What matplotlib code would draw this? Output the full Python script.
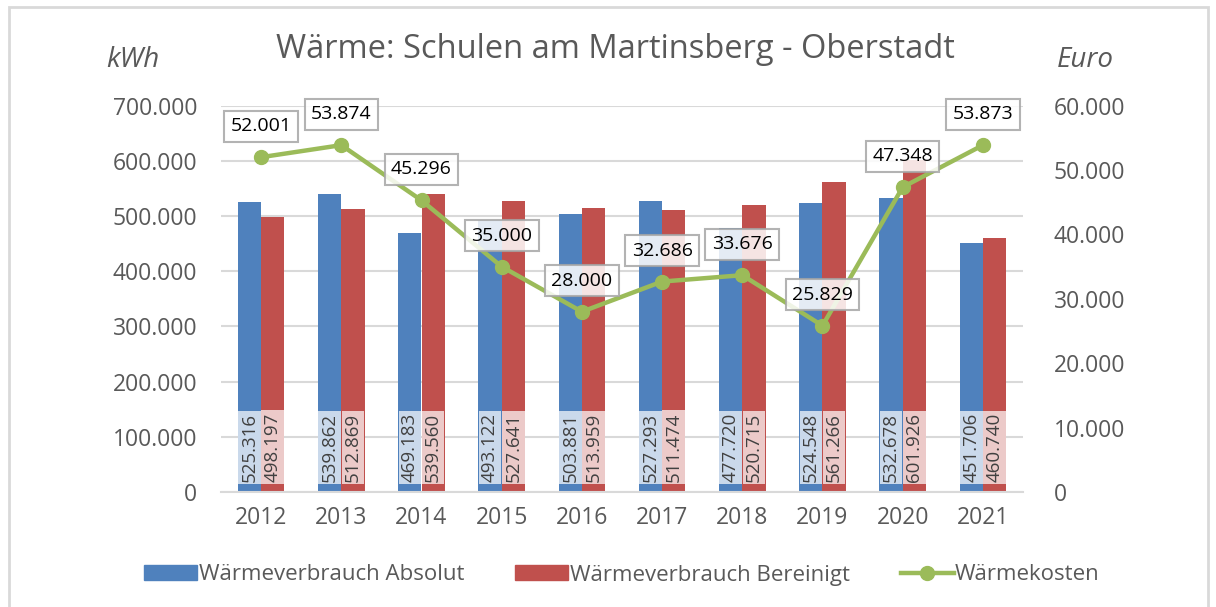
import matplotlib
matplotlib.use('Agg')
import matplotlib.pyplot as plt
import numpy as np
from matplotlib.patches import Rectangle
from matplotlib.lines import Line2D
from matplotlib.patches import Patch

plt.rcParams['font.family'] = ['Open Sans', 'DejaVu Sans']

# Data
years = ['2012', '2013', '2014', '2015', '2016', '2017', '2018', '2019', '2020', '2021']
verbrauch_absolut = [525316, 539862, 469183, 493122, 503881, 527293, 477720, 524548, 532678, 451706]
verbrauch_bereinigt = [498197, 512869, 539560, 527641, 513959, 511474, 520715, 561266, 601926, 460740]
kosten = [52001, 53874, 45296, 35000, 28000, 32686, 33676, 25829, 47348, 53873]

blue = '#4f81bd'
red = '#c0504d'
green = '#9bbb59'
grey_text = '#595959'
grid_col = '#d9d9d9'


def de_fmt(v):
    return f'{v:,.0f}'.replace(',', '.')


fig = plt.figure(figsize=(12.16, 6.07), dpi=100)
ax = fig.add_axes([221 / 1216, 1 - 492 / 607, 802 / 1216, 386.3 / 607])
ax2 = ax.twinx()

# outer frame of the chart
fig.patches.append(Rectangle((9 / 1216, -0.01), 1199 / 1216, 1 - 7 / 607 + 0.01,
                             transform=fig.transFigure, fill=False,
                             edgecolor=grid_col, linewidth=2))

x = np.arange(len(years))
w = 0.29
b1 = ax.bar(x - w / 2, verbrauch_absolut, width=w, color=blue, zorder=2)
b2 = ax.bar(x + w / 2, verbrauch_bereinigt, width=w, color=red, zorder=2)

# bar labels at base, rotated
for bars, vals in ((b1, verbrauch_absolut), (b2, verbrauch_bereinigt)):
    for rect, v in zip(bars, vals):
        ax.annotate(de_fmt(v), (rect.get_x() + rect.get_width() / 2, 0),
                    xytext=(0, 10), textcoords='offset pixels',
                    rotation=90, ha='center', va='bottom', fontsize=13.5,
                    color='#404040', zorder=3,
                    bbox=dict(boxstyle='square,pad=0.12', facecolor='white',
                              edgecolor='none', alpha=0.7))

ax.set_xlim(-0.5, len(years) - 0.5)
ax.set_ylim(0, 700000)
ax.set_yticks(np.arange(0, 700001, 100000))
ax.set_yticklabels([de_fmt(v) for v in np.arange(0, 700001, 100000)])
ax.set_xticks(x)
ax.set_xticklabels(years)
ax.yaxis.grid(True, color=grid_col, linewidth=1.5, zorder=0)
ax.set_axisbelow(True)
for s in ax.spines.values():
    s.set_visible(False)
ax.spines['bottom'].set_visible(True)
ax.spines['bottom'].set_color(grid_col)
ax.spines['bottom'].set_linewidth(1.5)
ax.tick_params(axis='both', length=0, labelsize=16.5, colors=grey_text)
ax.tick_params(axis='y', pad=17)
ax.tick_params(axis='x', pad=10)

# line on secondary axis
ax2.plot(x, kosten, color=green, linewidth=3.2, marker='o', markersize=10, zorder=4)
ax2.set_ylim(0, 60000)
ax2.set_yticks(np.arange(0, 60001, 10000))
ax2.set_yticklabels([de_fmt(v) for v in np.arange(0, 60001, 10000)])
for s in ax2.spines.values():
    s.set_visible(False)
ax2.tick_params(axis='y', length=0, labelsize=16.5, colors=grey_text, pad=22)

for xi, v in zip(x, kosten):
    ax2.annotate(de_fmt(v), (xi, v), xytext=(0, 31), textcoords='offset pixels',
                 ha='center', va='center', fontsize=14, color='black', zorder=5,
                 bbox=dict(boxstyle='square,pad=0.33', facecolor='white',
                           edgecolor='#a6a6a6', linewidth=1.5, alpha=0.85))

fig.text(615 / 1216, 1 - 50 / 607, 'Wärme: Schulen am Martinsberg - Oberstadt',
         ha='center', va='center', fontsize=23.5, color=grey_text)
fig.text(133 / 1216, 1 - 60 / 607, 'kWh', ha='center', va='center',
         fontsize=20, style='italic', color=grey_text)
fig.text(1085 / 1216, 1 - 60 / 607, 'Euro', ha='center', va='center',
         fontsize=20, style='italic', color=grey_text)

handles = [Patch(color=blue), Patch(color=red),
           Line2D([], [], color=green, linewidth=3.2, marker='o', markersize=10)]
labels = ['Wärmeverbrauch Absolut', 'Wärmeverbrauch Bereinigt', 'Wärmekosten']
leg = fig.legend(handles, labels, loc='center', bbox_to_anchor=(622 / 1216, 1 - 575 / 607),
                 ncol=3, frameon=False, fontsize=16, handlelength=2.4, handleheight=0.65,
                 handletextpad=0.05, columnspacing=2.3)
for t in leg.get_texts():
    t.set_color(grey_text)

fig.savefig('out.png', dpi=100)
